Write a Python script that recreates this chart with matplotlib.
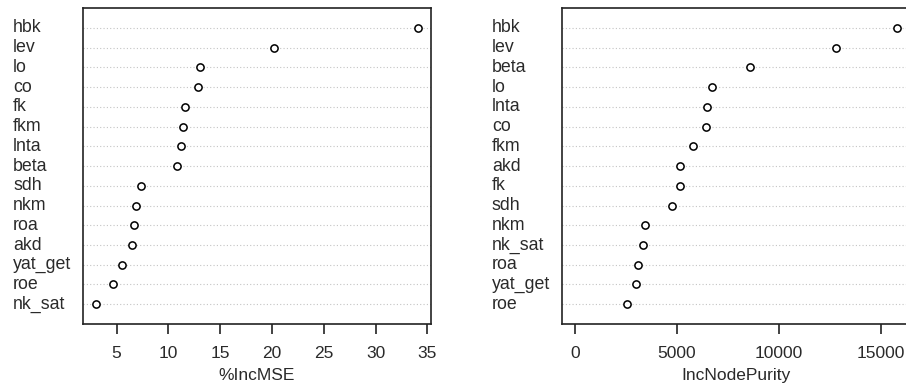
import matplotlib
matplotlib.use("Agg")
import matplotlib.pyplot as plt
from matplotlib import transforms

plt.rcParams['font.family'] = ['Liberation Sans', 'DejaVu Sans']

# %IncMSE panel (top to bottom)
mseVars = ["hbk", "lev", "lo", "co", "fk", "fkm", "lnta", "beta",
           "sdh", "nkm", "roa", "akd", "yat_get", "roe", "nk_sat"]
mseVals = [34.1, 20.2, 13.05, 12.9, 11.6, 11.4, 11.25, 10.85,
           7.35, 6.85, 6.65, 6.45, 5.55, 4.7, 3.0]

# IncNodePurity panel (top to bottom)
purVars = ["hbk", "lev", "beta", "lo", "lnta", "co", "fkm", "akd",
           "fk", "sdh", "nkm", "nk_sat", "roa", "yat_get", "roe"]
purVals = [15800, 12800, 8600, 6720, 6500, 6420, 5770, 5150,
           5140, 4760, 3420, 3320, 3080, 3010, 2570]

mseTicks = [5, 10, 15, 20, 25, 30, 35]
purTicks = [0, 5000, 10000, 15000]

fig = plt.figure(figsize=(9.06, 3.92), dpi=100)


def dotPanel(rect, names, vals, ticks, xlabel, labelX, xmin=None):
    ax = fig.add_axes(rect)
    n = len(names)
    ys = list(range(n, 0, -1))
    lo = min(vals) if xmin is None else xmin
    hi = max(vals)
    pad = (hi - lo) * 0.04
    ax.set_xlim(lo - pad, hi + pad)
    ax.set_ylim(0, n + 1)
    for y in ys:
        ax.axhline(y, color="#c4c4c4", lw=0.8, linestyle=(0, (1, 2)), zorder=1)
    ax.plot(vals, ys, linestyle="none", marker="o", markersize=5.2,
            markerfacecolor="white", markeredgecolor="black",
            markeredgewidth=1.1, zorder=3)
    ax.set_yticks([])
    ax.set_xticks(ticks)
    ax.set_xticklabels([str(t) for t in ticks], fontsize=12.5, color="#2a2a2a")
    ax.tick_params(axis="x", length=7, width=1.2, pad=9, color="#222222")
    ax.set_xlabel(xlabel, fontsize=12.5, labelpad=5, color="#2a2a2a")
    for s in ax.spines.values():
        s.set_linewidth(1.2)
        s.set_color("#222222")
    tr = transforms.blended_transform_factory(fig.transFigure, ax.transData)
    for name, y in zip(names, ys):
        ax.text(labelX, y, name, transform=tr, ha="left", va="center",
                fontsize=12.8, color="#2a2a2a", clip_on=False)
    return ax


dotPanel([0.0916, 0.1735, 0.3841, 0.806], mseVars, mseVals, mseTicks,
         "%IncMSE", 13 / 906)
dotPanel([0.6203, 0.1735, 0.3841, 0.806], purVars, purVals, purTicks,
         "IncNodePurity", 492 / 906, xmin=0)

fig.savefig("out.png", dpi=100)
